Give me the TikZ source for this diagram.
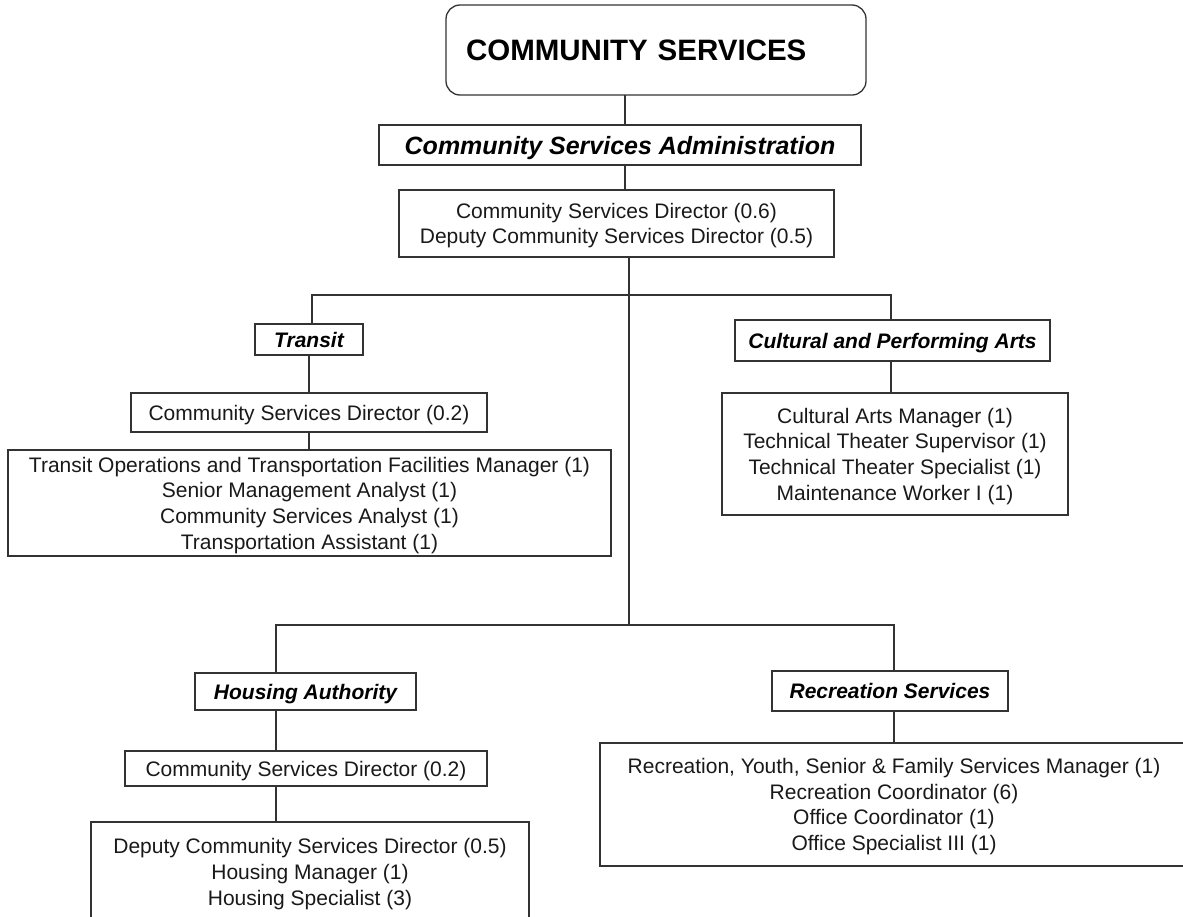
\documentclass[tikz,border=0pt]{standalone}
\usepackage{fontspec}
\setmainfont{Liberation Sans}
\usepackage{tikz}

\begin{document}
\begin{tikzpicture}[x=1pt, y=-1pt,
    box/.style={draw=black!80, line width=1.3pt, inner sep=0pt, outer sep=0pt,
      align=center, text depth=0pt, text=black!90, font=\fontsize{21}{25.7}\selectfont},
    unit/.style={box, text=black, font=\fontsize{21}{25.7}\selectfont\bfseries\itshape},
    conn/.style={black!80, line width=1.3pt}]
  \useasboundingbox (0,0) rectangle (1183,916);
  \clip (0,0) rectangle (1183,916);

  \node[box, rounded corners=14pt, minimum width=420pt, minimum height=90pt,
    text width=380pt, align=left, text=black,
    font=\fontsize{29.5}{34}\selectfont\bfseries] (cs) at (656,50) {COMMUNITY SERVICES};
  \node[unit, minimum width=482pt, minimum height=40pt,
    font=\fontsize{25}{30}\selectfont\bfseries\itshape] (admin) at (620,145)
    {Community Services Administration};
  \node[box, minimum width=435pt, minimum height=67pt] (dir) at (616.5,223.5)
    {Community Services Director (0.6)\\Deputy Community Services Director (0.5)};

  \node[unit, minimum width=108pt, minimum height=31pt] (transit) at (309,339.5) {Transit};
  \node[box, minimum width=356pt, minimum height=39pt] (tdir) at (309,412.5)
    {Community Services Director (0.2)};
  \node[box, minimum width=603pt, minimum height=106pt] (tstaff) at (309.5,503)
    {Transit Operations and Transportation Facilities Manager (1)\\
     Senior Management Analyst (1)\\Community Services Analyst (1)\\
     Transportation Assistant (1)};

  \node[unit, minimum width=315pt, minimum height=41pt] (arts) at (892.5,340.5)
    {Cultural and Performing Arts};
  \node[box, minimum width=346pt, minimum height=122pt] (artstaff) at (895,454)
    {Cultural Arts Manager (1)\\Technical Theater Supervisor (1)\\
     Technical Theater Specialist (1)\\Maintenance Worker I (1)};

  \node[unit, minimum width=221pt, minimum height=37pt] (hous) at (305.5,691.5)
    {Housing Authority};
  \node[box, minimum width=362pt, minimum height=35pt] (hdir) at (306,768.5)
    {Community Services Director (0.2)};
  \node[box, minimum width=438pt, minimum height=100pt] (hstaff) at (310,872)
    {Deputy Community Services Director (0.5)\\Housing Manager (1)\\
     Housing Specialist (3)};

  \node[unit, minimum width=236pt, minimum height=40pt] (rec) at (890,691)
    {Recreation Services};
  \node[box, minimum width=588pt, minimum height=123pt] (recstaff) at (894,804.5)
    {Recreation, Youth, Senior \& Family Services Manager (1)\\
     Recreation Coordinator (6)\\Office Coordinator (1)\\Office Specialist III (1)};

  \coordinate (spine) at (625,0);
  \coordinate (trunk) at (629,625);
  \coordinate (busT) at (312,295);
  \coordinate (busC) at (891,295);
  \coordinate (busH) at (276,625);
  \coordinate (busR) at (894,625);

  \draw[conn] (cs.south -| spine) -- (admin.north -| spine);
  \draw[conn] (admin.south -| spine) -- (dir.north -| spine);
  \draw[conn] (dir.south -| trunk) -- (trunk);
  \draw[conn] (transit.north -| busT) -- (busT) -- (busC) -- (arts.north -| busC);
  \draw[conn] (hous.north -| busH) -- (busH) -- (busR) -- (rec.north -| busR);
  \draw[conn] (transit.south) -- (tdir.north -| transit.south);
  \draw[conn] (tdir.south) -- (tstaff.north -| tdir.south);
  \draw[conn] (arts.south -| busC) -- (artstaff.north -| busC);
  \draw[conn] (hous.south -| busH) -- (hdir.north -| busH);
  \draw[conn] (hdir.south -| busH) -- (hstaff.north -| busH);
  \draw[conn] (rec.south -| busR) -- (recstaff.north -| busR);
\end{tikzpicture}
\end{document}
